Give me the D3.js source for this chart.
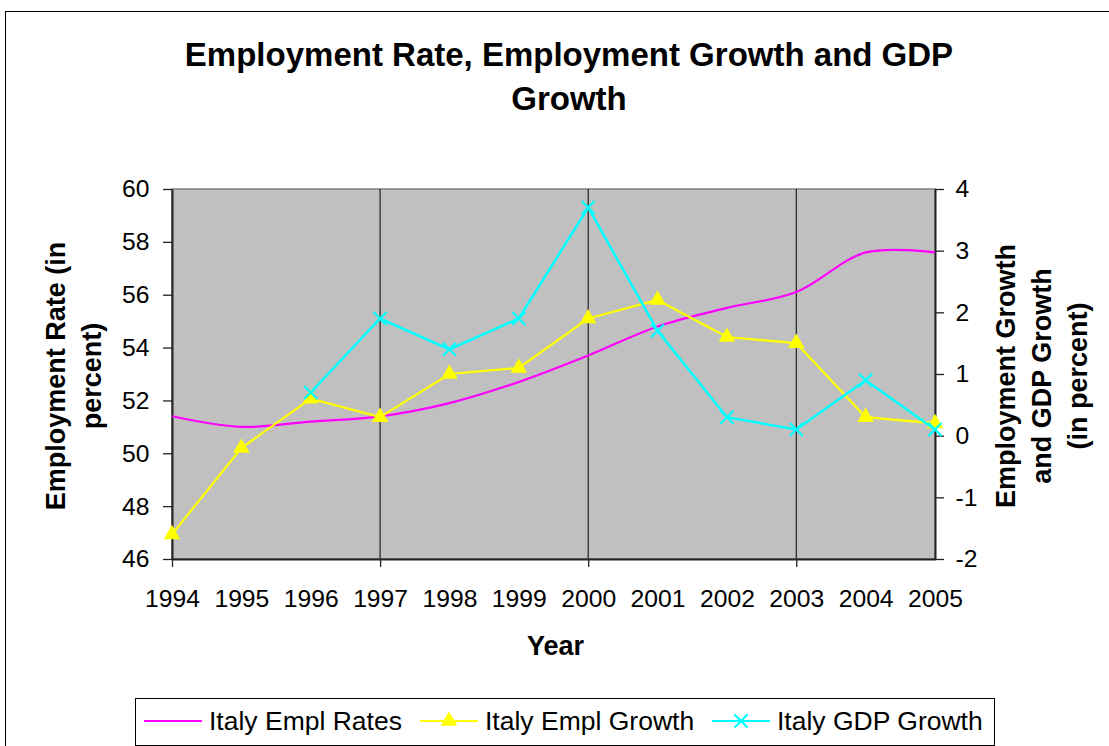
<!DOCTYPE html>
<html>
<head>
<meta charset="utf-8">
<script src="https://cdn.jsdelivr.net/npm/d3@7"></script>
<style>
  body { margin: 0; background: #fff; }
  svg text { font-family: "Liberation Sans", Arial, sans-serif; fill: #000; }
</style>
</head>
<body>
<div id="chart"></div>
<script>
// data
const years = ["1994", "1995", "1996", "1997", "1998", "1999", "2000", "2001", "2002", "2003", "2004", "2005"];
const emplRates = [51.4, 51.0, 51.2, 51.4, 51.9, 52.7, 53.7, 54.8, 55.5, 56.1, 57.6, 57.6];
const emplGrowth = [-1.6, -0.2, 0.6, 0.3, 1.0, 1.1, 1.9, 2.2, 1.6, 1.5, 0.3, 0.2];
const gdpGrowth = [null, null, 0.7, 1.9, 1.4, 1.9, 3.7, 1.7, 0.3, 0.1, 0.9, 0.1];
const leftTicks = [46, 48, 50, 52, 54, 56, 58, 60];
const rightTicks = [-2, -1, 0, 1, 2, 3, 4];
const gridYears = ["1997", "2000", "2003"];
const markYears = ["1994", "1997", "2000", "2003"];
const seriesNames = ["Italy Empl Rates", "Italy Empl Growth", "Italy GDP Growth"];

const W = 1109, H = 746;
const plot = {left: 172, right: 935, top: 189, bottom: 559};

const svg = d3.select("#chart").append("svg")
    .attr("width", W)
    .attr("height", H);

// outer chart border
svg.append("rect")
    .attr("x", 5.5).attr("y", 11.5)
    .attr("width", 1200).attr("height", 800)
    .attr("fill", "#fff")
    .attr("stroke", "#000");

// title
const title = svg.append("text")
    .attr("text-anchor", "middle")
    .style("font-size", "33px")
    .style("font-weight", "bold");
title.append("tspan").attr("x", 569).attr("y", 66).text("Employment Rate, Employment Growth and GDP");
title.append("tspan").attr("x", 569).attr("y", 110).text("Growth");

// scales
const x = d3.scalePoint().domain(years).range([plot.left, plot.right]);
const yL = d3.scaleLinear().domain([46, 60]).range([plot.bottom, plot.top]);
const yR = d3.scaleLinear().domain([-2, 4]).range([plot.bottom, plot.top]);

// plot area
svg.append("rect")
    .attr("x", plot.left).attr("y", plot.top)
    .attr("width", plot.right - plot.left)
    .attr("height", plot.bottom - plot.top)
    .attr("fill", "#c0c0c0")
    .attr("stroke", "#808080")
    .attr("stroke-width", 1.5);

// vertical gridlines
svg.selectAll(".vgrid")
    .data(gridYears)
    .enter().append("line")
    .attr("class", "vgrid")
    .attr("x1", d => x(d)).attr("x2", d => x(d))
    .attr("y1", plot.top).attr("y2", plot.bottom)
    .attr("stroke", "#000")
    .attr("stroke-width", 1);

// axes
function styleAxis(g, size) {
    g.select(".domain").attr("stroke", "#222").attr("stroke-width", 2);
    g.selectAll(".tick line").attr("stroke", "#222").attr("stroke-width", 1.3);
    g.selectAll(".tick text")
        .attr("font-family", null)
        .style("font-size", size + "px")
        .attr("fill", "#000");
}

const leftAxis = svg.append("g")
    .attr("transform", `translate(${plot.left},0)`)
    .call(d3.axisLeft(yL).tickValues(leftTicks).tickFormat(d => String(d))
        .tickSize(9).tickSizeOuter(0).tickPadding(13.5));
styleAxis(leftAxis, 24.7);

const rightAxis = svg.append("g")
    .attr("transform", `translate(${plot.right},0)`)
    .call(d3.axisRight(yR).tickValues(rightTicks).tickFormat(d => String(d))
        .tickSize(9).tickSizeOuter(0).tickPadding(11.5));
styleAxis(rightAxis, 24.7);

const bottomAxis = svg.append("g")
    .attr("transform", `translate(0,${plot.bottom})`)
    .call(d3.axisBottom(x).tickSize(8).tickSizeOuter(0).tickPadding(22.6));
styleAxis(bottomAxis, 24.7);
bottomAxis.selectAll(".tick line")
    .attr("opacity", d => markYears.includes(d) ? 1 : 0);

// axis titles
svg.append("text")
    .attr("x", (plot.left + plot.right) / 2 + 2).attr("y", 655)
    .attr("text-anchor", "middle")
    .style("font-size", "27px").style("font-weight", "bold")
    .text("Year");

const leftTitle = svg.append("text")
    .attr("transform", "translate(0,376) rotate(-90)")
    .attr("text-anchor", "middle")
    .style("font-size", "27px").style("font-weight", "bold");
leftTitle.append("tspan").attr("x", 0).attr("y", 64.5).text("Employment Rate (in");
leftTitle.append("tspan").attr("x", 0).attr("y", 101).text("percent)");

const rightTitle = svg.append("text")
    .attr("transform", "translate(0,376) rotate(-90)")
    .attr("text-anchor", "middle")
    .style("font-size", "27px").style("font-weight", "bold");
rightTitle.append("tspan").attr("x", 0).attr("y", 1014.5).text("Employment Growth");
rightTitle.append("tspan").attr("x", 0).attr("y", 1050.5).text("and GDP Growth");
rightTitle.append("tspan").attr("x", 0).attr("y", 1086.5).text("(in percent)");

// series
const rateLine = d3.line()
    .x((d, i) => x(years[i]))
    .y(d => yL(d))
    .curve(d3.curveCatmullRom.alpha(0.5));

svg.append("path")
    .datum(emplRates)
    .attr("d", rateLine)
    .attr("fill", "none")
    .attr("stroke", "#ff00ff")
    .attr("stroke-width", 2.2);

const growthLine = d3.line()
    .defined(d => d != null)
    .x((d, i) => x(years[i]))
    .y(d => yR(d));

svg.append("path")
    .datum(emplGrowth)
    .attr("d", growthLine)
    .attr("fill", "none")
    .attr("stroke", "#ffff00")
    .attr("stroke-width", 2.2);

const triangle = d3.symbol().type(d3.symbolTriangle).size(120);
svg.selectAll(".tri")
    .data(emplGrowth)
    .enter().append("path")
    .attr("class", "tri")
    .attr("d", triangle)
    .attr("transform", (d, i) => `translate(${x(years[i])},${yR(d)})`)
    .attr("fill", "#ffff00");

svg.append("path")
    .datum(gdpGrowth)
    .attr("d", growthLine)
    .attr("fill", "none")
    .attr("stroke", "#00ffff")
    .attr("stroke-width", 2.5);

const xMark = "M-6.5,-6.5L6.5,6.5M-6.5,6.5L6.5,-6.5";
svg.selectAll(".xmark")
    .data(gdpGrowth.map((v, i) => ({year: years[i], v})).filter(d => d.v != null))
    .enter().append("path")
    .attr("class", "xmark")
    .attr("d", xMark)
    .attr("transform", d => `translate(${x(d.year)},${yR(d.v)})`)
    .attr("stroke", "#00ffff")
    .attr("stroke-width", 2.2)
    .attr("fill", "none");

// legend
svg.append("rect")
    .attr("x", 135.5).attr("y", 698.5)
    .attr("width", 859).attr("height", 47)
    .attr("fill", "#fff")
    .attr("stroke", "#000");

const legendX = [144, 420, 712];
const legendColors = ["#ff00ff", "#ffff00", "#00ffff"];
const legend = svg.selectAll(".legend-item")
    .data(seriesNames)
    .enter().append("g")
    .attr("class", "legend-item")
    .attr("transform", (d, i) => `translate(${legendX[i]},721)`);

legend.append("line")
    .attr("x1", 0).attr("x2", 58)
    .attr("stroke", (d, i) => legendColors[i])
    .attr("stroke-width", 2.2);

legend.filter((d, i) => i === 1).append("path")
    .attr("d", triangle)
    .attr("transform", "translate(29,0)")
    .attr("fill", "#ffff00");

legend.filter((d, i) => i === 2).append("path")
    .attr("d", xMark)
    .attr("transform", "translate(29,0)")
    .attr("stroke", "#00ffff")
    .attr("stroke-width", 2.2);

legend.append("text")
    .attr("x", 65).attr("y", 9)
    .style("font-size", "26.5px")
    .text(d => d);
</script>
</body>
</html>
